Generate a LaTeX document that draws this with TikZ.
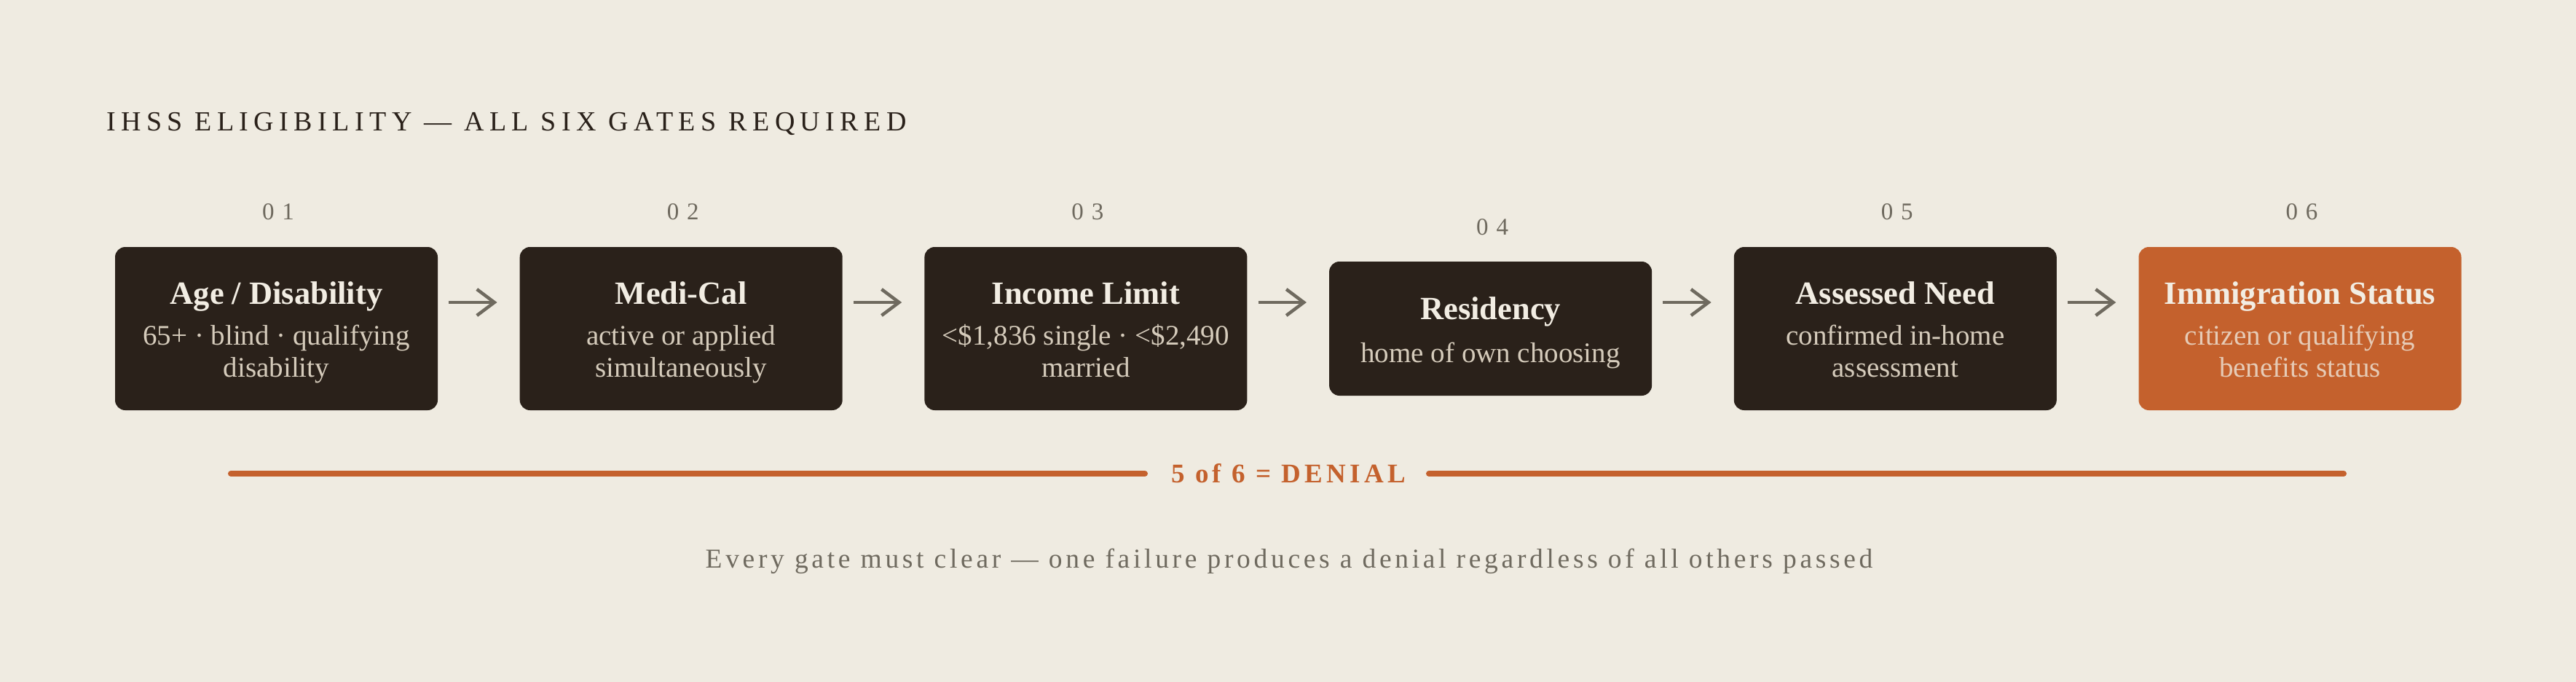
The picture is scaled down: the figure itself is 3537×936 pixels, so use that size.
\documentclass[tikz,border=0pt]{standalone}
\usepackage{fontspec}
\setmainfont{Liberation Serif}
\newfontfamily\headfont[LetterSpace=19.5]{Liberation Serif}
\newfontfamily\numfont[LetterSpace=33]{Liberation Serif}
\newfontfamily\denialfont[LetterSpace=14]{Liberation Serif}
\newfontfamily\footfont[LetterSpace=12.5]{Liberation Serif}
\usetikzlibrary{arrows.meta,calc}
\definecolor{bg}{HTML}{EFEBE1}
\definecolor{boxdark}{HTML}{2A211A}
\definecolor{accent}{HTML}{C4612D}
\definecolor{cream}{HTML}{F2EDE3}
\definecolor{subcream}{HTML}{D5CBBB}
\definecolor{suborange}{HTML}{E6CBB6}
\definecolor{graytext}{HTML}{6F6A5F}
\begin{document}
\begin{tikzpicture}[x=1pt,y=-1pt,
  gate/.style={rounded corners=14pt, fill=boxdark, draw=none, inner sep=0pt,
    minimum width=443pt, minimum height=224pt},
  gtitle/.style={anchor=base, inner sep=0pt, text=cream,
    font=\fontsize{44.5}{48}\selectfont\bfseries},
  gsub/.style={anchor=base, inner sep=0pt, text=subcream,
    font=\fontsize{39}{44}\selectfont},
  gnum/.style={anchor=base, inner sep=0pt, text=graytext,
    font=\numfont\fontsize{33}{36}\selectfont},
  flow/.style={draw=graytext, line width=4.5pt,
    -{Straight Barb[length=24pt, width=36pt]}},
  deny/.style={draw=accent, line width=8pt, line cap=round}
]
\fill[bg] (0,0) rectangle (3537,936);
\useasboundingbox (0,0) rectangle (3537,936);

% title
\node[anchor=base west, inner sep=0pt, text=boxdark,
  font=\headfont\fontsize{38}{42}\selectfont] (title) at (146,180)
  {IHSS ELIGIBILITY — ALL SIX GATES REQUIRED};

% gates
\node[gate] (g1) at (379.5,451) {};
\node[gate] (g2) at (935.2,451) {};
\node[gate] (g3) at (1490.9,451) {};
\node[gate, minimum height=184pt] (g4) at (2046.6,451) {};
\node[gate] (g5) at (2602.3,451) {};
\node[gate, fill=accent] (g6) at (3158,451) {};

% numbers
\node[gnum] (n1) at (382,301) {01};
\node[gnum] (n2) at (937.7,301) {02};
\node[gnum] (n3) at (1493.4,301) {03};
\node[gnum] (n4) at (2049.1,322) {04};
\node[gnum] (n5) at (2604.8,301) {05};
\node[gnum] (n6) at (3160.5,301) {06};

% gate texts
\node[gtitle] (t1) at (379.5,417) {Age / Disability};
\node[gsub] (s1a) at (379.5,473) {65+ · blind · qualifying};
\node[gsub] (s1b) at (379.5,517) {disability};

\node[gtitle] (t2) at (935.2,417) {Medi-Cal};
\node[gsub] (s2a) at (935.2,473) {active or applied};
\node[gsub] (s2b) at (935.2,517) {simultaneously};

\node[gtitle] (t3) at (1490.9,417) {Income Limit};
\node[gsub] (s3a) at (1490.9,473) {<\$1,836 single · <\$2,490};
\node[gsub] (s3b) at (1490.9,517) {married};

\node[gtitle] (t4) at (2046.6,438) {Residency};
\node[gsub] (s4a) at (2046.6,497) {home of own choosing};

\node[gtitle] (t5) at (2602.3,417) {Assessed Need};
\node[gsub] (s5a) at (2602.3,473) {confirmed in-home};
\node[gsub] (s5b) at (2602.3,517) {assessment};

\node[gtitle] (t6) at (3158,417) {Immigration Status};
\node[gsub, text=suborange] (s6a) at (3158,473) {citizen or qualifying};
\node[gsub, text=suborange] (s6b) at (3158,517) {benefits status};

% arrows
\draw[flow] ([xshift=15pt,yshift=36pt]g1.east) -- ([xshift=-31pt,yshift=36pt]g2.west);
\draw[flow] ([xshift=15pt,yshift=36pt]g2.east) -- ([xshift=-31pt,yshift=36pt]g3.west);
\draw[flow] ([xshift=15pt,yshift=36pt]g3.east) -- ([xshift=-31pt,yshift=36pt]g4.west);
\draw[flow] ([xshift=15pt,yshift=36pt]g4.east) -- ([xshift=-31pt,yshift=36pt]g5.west);
\draw[flow] ([xshift=15pt,yshift=36pt]g5.east) -- ([xshift=-31pt,yshift=36pt]g6.west);

% denial bar
\node[anchor=base, inner sep=0pt, text=accent,
  font=\denialfont\bfseries\fontsize{37}{40}\selectfont] (den) at (1769,662)
  {5 of 6 = DENIAL};
\coordinate (dl) at (317,650);
\coordinate (dr) at (3218,650);
\draw[deny] (dl) -- ($(dl -| den.west)+(-36,0)$);
\draw[deny] (dr) -- ($(dr -| den.east)+(32,0)$);

% footer
\node[anchor=base, inner sep=0pt, text=graytext,
  font=\footfont\fontsize{37.5}{40}\selectfont] (foot) at (1770,779)
  {Every gate must clear — one failure produces a denial regardless of all others passed};
\end{tikzpicture}
\end{document}
